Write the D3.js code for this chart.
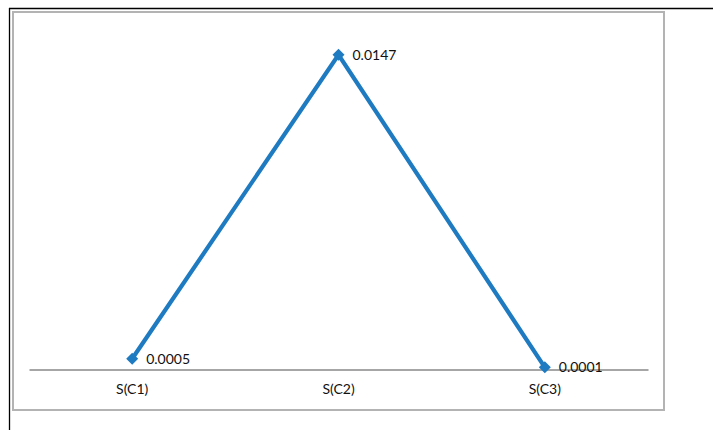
<!DOCTYPE html>
<html><head><meta charset="utf-8">
<script src="https://cdn.jsdelivr.net/npm/d3@7"></script>
<style>body{margin:0;background:#fff}svg{display:block}</style>
</head><body>
<script>
const categories = ["S(C1)", "S(C2)", "S(C3)"];
const values = [0.0005, 0.0147, 0.0001];
const valueLabels = ["0.0005", "0.0147", "0.0001"];

const W = 713, H = 430;
const svg = d3.select("body").append("svg").attr("width", W).attr("height", H);

// outer frame lines
svg.append("line").attr("x1", 9).attr("x2", W).attr("y1", 8.5).attr("y2", 8.5).attr("stroke", "#000").attr("stroke-width", 1.3);
svg.append("line").attr("x1", 9.5).attr("x2", 9.5).attr("y1", 8).attr("y2", H).attr("stroke", "#000").attr("stroke-width", 1.3);
// chart box
svg.append("rect").attr("x", 13).attr("y", 12).attr("width", 651).attr("height", 398)
  .attr("fill", "#fff").attr("stroke", "#b3b3b3").attr("stroke-width", 2);

const x = d3.scaleBand().domain(categories).range([29, 648]);
const y = d3.scaleLinear().domain([0, 0.016]).range([369.5, 27]);

// axis
const axis = d3.axisBottom(x).tickSize(0).tickPadding(15);
const g = svg.append("g").attr("transform", `translate(0,${y(0)})`).call(axis);
g.select(".domain").attr("stroke", "#a6a6a6").attr("stroke-width", 2);
g.selectAll("text").attr("font-family", "Lato, 'Open Sans', sans-serif").attr("font-size", 14).attr("fill", "#111");

const cx = c => x(c) + x.bandwidth() / 2;
const line = d3.line().x((d, i) => cx(categories[i])).y(d => y(d));
svg.append("path").datum(values).attr("d", line).attr("fill", "none")
  .attr("stroke", "#1f7bc1").attr("stroke-width", 4.2).attr("stroke-linejoin", "miter");

svg.selectAll(".pt").data(values).enter().append("path")
  .attr("d", d3.symbol().type(d3.symbolSquare).size(72)())
  .attr("transform", (d, i) => `translate(${cx(categories[i])},${y(d)}) rotate(45)`)
  .attr("fill", "#1f7bc1");

svg.selectAll(".lbl").data(values).enter().append("text")
  .attr("x", (d, i) => cx(categories[i]) + 14)
  .attr("y", d => y(d))
  .attr("dy", "0.35em")
  .attr("font-family", "Lato, 'Open Sans', sans-serif").attr("font-size", 14).attr("fill", "#111")
  .text((d, i) => valueLabels[i]);
</script>
</body></html>
